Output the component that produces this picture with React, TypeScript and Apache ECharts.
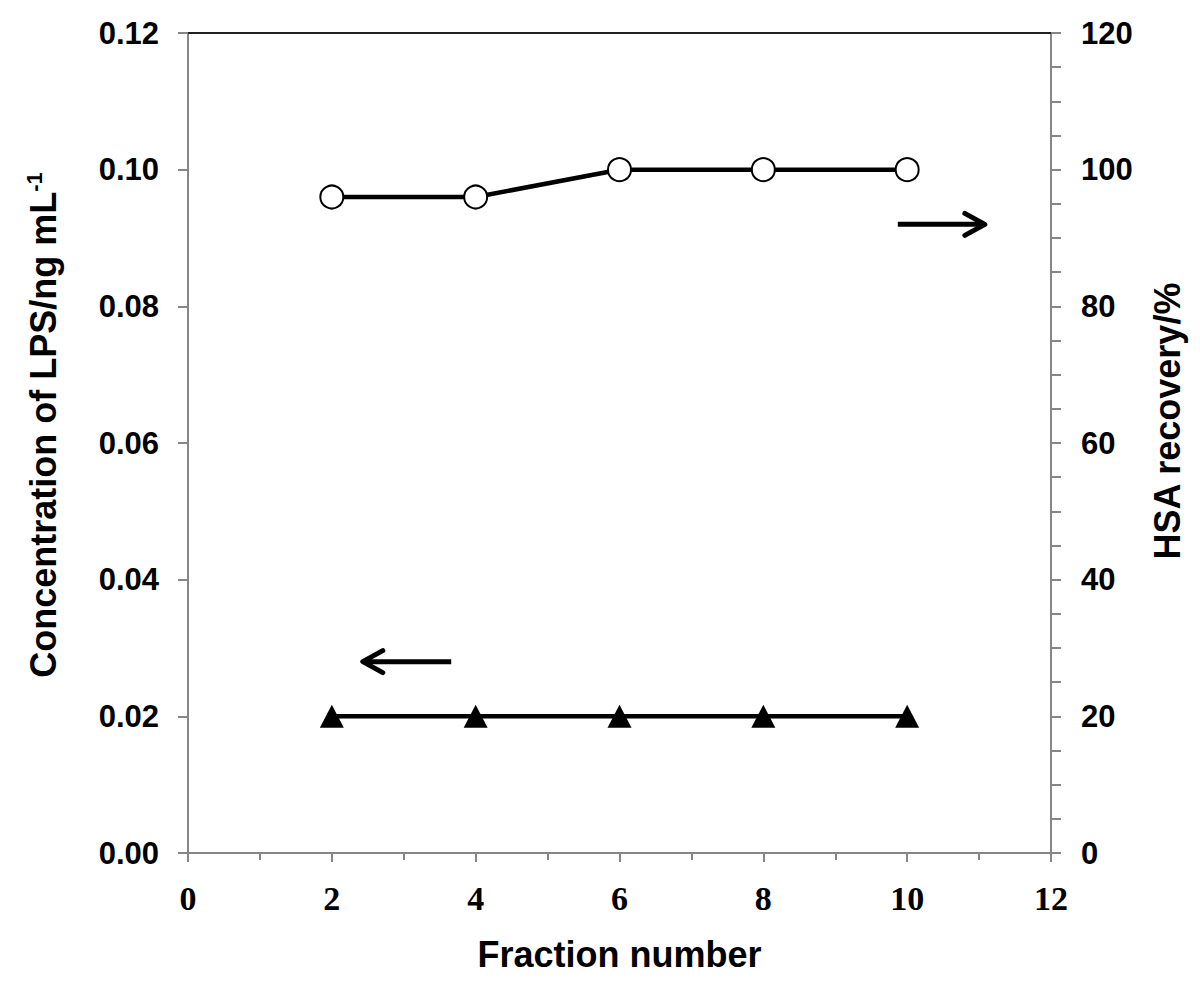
import React, { useEffect, useRef } from 'react';
import * as echarts from 'echarts';

// Data
const fractions = [2, 4, 6, 8, 10];
const lpsConcentration = [0.02, 0.02, 0.02, 0.02, 0.02]; // left axis (ng/mL)
const hsaRecovery = [96, 96, 100, 100, 100]; // right axis (%)

// Annotation arrows: [x tail, y tail, x tip, y tip] in data units
const leftArrow = [3.66, 0.028, 2.43, 0.028]; // on left axis
const rightArrow = [9.87, 92, 11.08, 92]; // on right axis

const GREY = '#868686';
const SANS = 'Liberation Sans, Arial, sans-serif';
const SERIF = 'Liberation Serif, Times New Roman, serif';

function renderArrow(params: any, api: any) {
  const a = api.coord([api.value(0), api.value(1)]);
  const b = api.coord([api.value(2), api.value(3)]);
  const dx = b[0] - a[0];
  const dy = b[1] - a[1];
  const len = Math.hypot(dx, dy) || 1;
  const ux = dx / len;
  const uy = dy / len;
  const headL = 20;
  const headW = 11;
  const p1 = [b[0] - ux * headL - uy * headW, b[1] - uy * headL + ux * headW];
  const p2 = [b[0] - ux * headL + uy * headW, b[1] - uy * headL - ux * headW];
  return {
    type: 'group',
    children: [
      {
        type: 'line',
        shape: { x1: a[0], y1: a[1], x2: b[0] - ux * 2, y2: b[1] - uy * 2 },
        style: { stroke: '#000', lineWidth: 5 },
      },
      {
        type: 'polyline',
        shape: { points: [p1, b, p2] },
        style: { stroke: '#000', lineWidth: 5, fill: 'none', lineJoin: 'round', lineCap: 'round' },
      },
    ],
  };
}

export default function App() {
  const ref = useRef<HTMLDivElement>(null);

  useEffect(() => {
    const chart = echarts.init(ref.current!, null, { renderer: 'svg' });
    const axisLineStyle = { color: GREY, width: 2 };
    chart.setOption({
      animation: false,
      backgroundColor: '#fff',
      grid: { left: 188, right: 149, top: 33, bottom: 147, containLabel: false },
      xAxis: [
        {
          type: 'value',
          position: 'bottom',
          min: 0,
          max: 12,
          interval: 2,
          axisLine: { show: true, onZero: false, lineStyle: axisLineStyle },
          axisTick: { show: true, length: 9, lineStyle: axisLineStyle },
          minorTick: { show: true, splitNumber: 2, length: 7, lineStyle: axisLineStyle },
          splitLine: { show: false },
          minorSplitLine: { show: false },
          axisLabel: {
            color: '#000',
            fontFamily: SERIF,
            fontWeight: 'bold',
            fontSize: 34,
            margin: 28,
          },
          name: 'Fraction number',
          nameLocation: 'middle',
          nameGap: 83,
          nameTextStyle: { color: '#000', fontFamily: SANS, fontWeight: 'bold', fontSize: 36 },
        },
        {
          type: 'value',
          position: 'top',
          min: 0,
          max: 12,
          axisLine: { show: true, onZero: false, lineStyle: { color: '#222', width: 2 } },
          axisTick: { show: false },
          axisLabel: { show: false },
          splitLine: { show: false },
        },
      ],
      yAxis: [
        {
          type: 'value',
          position: 'left',
          min: 0,
          max: 0.12,
          interval: 0.02,
          axisLine: { show: true, onZero: false, lineStyle: axisLineStyle },
          axisTick: { show: true, length: 10, lineStyle: axisLineStyle },
          splitLine: { show: false },
          axisLabel: {
            color: '#000',
            fontFamily: SANS,
            fontWeight: 'bold',
            fontSize: 31,
            margin: 29,
            formatter: (v: number) => v.toFixed(2),
          },
        },
        {
          type: 'value',
          position: 'right',
          min: 0,
          max: 120,
          interval: 20,
          axisLine: { show: true, onZero: false, lineStyle: axisLineStyle },
          axisTick: { show: true, length: 10, lineStyle: axisLineStyle },
          minorTick: { show: true, splitNumber: 4, length: 10, lineStyle: axisLineStyle },
          splitLine: { show: false },
          minorSplitLine: { show: false },
          axisLabel: {
            color: '#000',
            fontFamily: SANS,
            fontWeight: 'bold',
            fontSize: 31,
            margin: 30,
          },
        },
      ],
      graphic: [
        {
          type: 'text',
          x: 43,
          y: 425,
          rotation: Math.PI / 2,
          style: {
            text: '{a|Concentration of LPS/ng mL}{s|-1}',
            align: 'center',
            verticalAlign: 'middle',
            rich: {
              a: { fontFamily: SANS, fontWeight: 'bold', fontSize: 36, fill: '#000', lineHeight: 40 },
              s: { fontFamily: SANS, fontWeight: 'bold', fontSize: 22, fill: '#000', lineHeight: 24, verticalAlign: 'top' },
            },
          },
        },
        {
          type: 'text',
          x: 1167,
          y: 421,
          rotation: Math.PI / 2,
          style: {
            text: 'HSA recovery/%',
            align: 'center',
            verticalAlign: 'middle',
            fontFamily: SANS,
            fontWeight: 'bold',
            fontSize: 36,
            fill: '#000',
          },
        },
      ],
      series: [
        {
          name: 'HSA recovery',
          type: 'line',
          xAxisIndex: 0,
          yAxisIndex: 1,
          data: fractions.map((x, i) => [x, hsaRecovery[i]]),
          symbol: 'circle',
          symbolSize: 23,
          itemStyle: { color: '#fff', borderColor: '#000', borderWidth: 2 },
          lineStyle: { color: '#000', width: 4.5 },
          z: 3,
        },
        {
          name: 'LPS concentration',
          type: 'line',
          xAxisIndex: 0,
          yAxisIndex: 0,
          data: fractions.map((x, i) => [x, lpsConcentration[i]]),
          symbol: 'triangle',
          symbolSize: [24, 23],
          itemStyle: { color: '#000' },
          lineStyle: { color: '#000', width: 4.5 },
          z: 3,
        },
        {
          name: 'arrow-left',
          type: 'custom',
          xAxisIndex: 0,
          yAxisIndex: 0,
          renderItem: renderArrow,
          encode: { x: [0, 2], y: [1, 3] },
          data: [leftArrow],
          silent: true,
        },
        {
          name: 'arrow-right',
          type: 'custom',
          xAxisIndex: 0,
          yAxisIndex: 1,
          renderItem: renderArrow,
          encode: { x: [0, 2], y: [1, 3] },
          data: [rightArrow],
          silent: true,
        },
      ],
    });
    return () => chart.dispose();
  }, []);

  return (
    <div
      ref={ref}
      style={{ position: 'fixed', left: 0, top: 0, width: 1200, height: 1000, background: '#fff' }}
    />
  );
}
